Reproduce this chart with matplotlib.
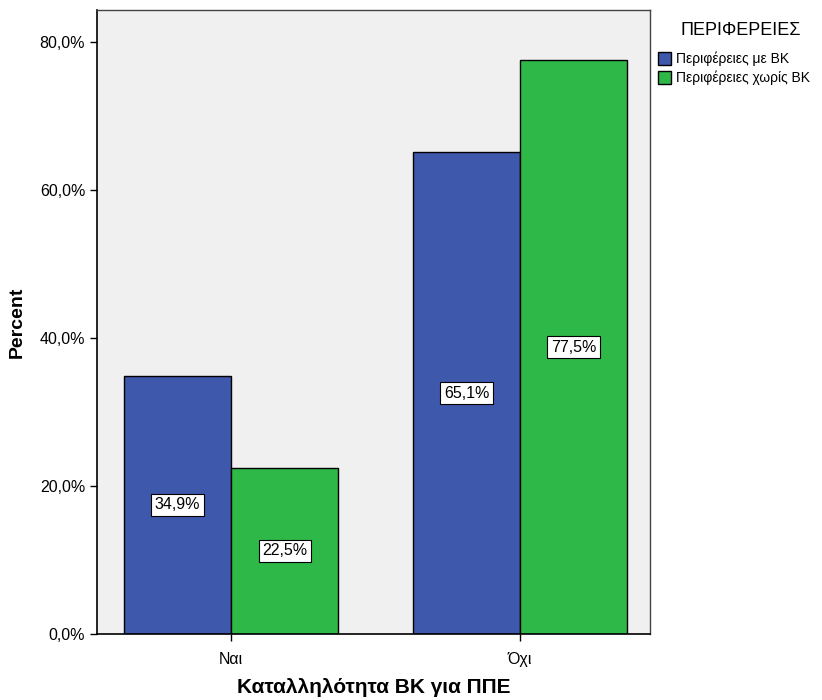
import numpy as np
import matplotlib.pyplot as plt
from matplotlib.ticker import FuncFormatter

plt.rcParams['font.family'] = ['Liberation Sans', 'DejaVu Sans']

categories = ['Ναι', 'Όχι']
series_names = ['Περιφέρειες με ΒΚ', 'Περιφέρειες χωρίς ΒΚ']
with_bk = [34.9, 65.1]
without_bk = [22.5, 77.5]
colors = ['#3e58ac', '#2eb848']

fig = plt.figure(figsize=(8.22, 7.0), dpi=100)
ax = fig.add_axes([0.118, 0.094, 0.673, 0.892])
ax.set_facecolor('#f0f0f0')

x = np.arange(len(categories))
w = 0.37
for vals, off, col, name in zip([with_bk, without_bk], [-w / 2, w / 2], colors, series_names):
    bars = ax.bar(x + off, vals, w, color=col, edgecolor='black', linewidth=1, label=name)
    for b, v in zip(bars, vals):
        ax.text(b.get_x() + b.get_width() / 2, v / 2, f'{v:.1f}%'.replace('.', ','),
                ha='center', va='center', fontsize=11.5,
                bbox=dict(boxstyle='square,pad=0.22', fc='white', ec='black', lw=0.8))

ax.set_xlim(-0.464, 1.45)
ax.set_ylim(0, 84.3)
ax.set_yticks([0, 20, 40, 60, 80])
ax.yaxis.set_major_formatter(FuncFormatter(lambda v, p: f'{v:.1f}%'.replace('.', ',')))
ax.set_xticks(x)
ax.set_xticklabels(categories)
ax.tick_params(labelsize=11.5, length=5, width=1, color='black')
ax.tick_params(axis='x', pad=8)
for s in ['top', 'right']:
    ax.spines[s].set_color('#444444')
    ax.spines[s].set_linewidth(1)
for s in ['left', 'bottom']:
    ax.spines[s].set_linewidth(1.2)

ax.set_ylabel('Percent', fontsize=14, fontweight='bold', labelpad=10)
ax.set_xlabel('Καταλληλότητα ΒΚ για ΠΠΕ', fontsize=15, fontweight='bold', labelpad=8)

fig.text(0.901, 0.957, 'ΠΕΡΙΦΕΡΕΙΕΣ', ha='center', va='center', fontsize=13)
leg = fig.legend(loc='upper left', bbox_to_anchor=(0.8, 0.926),
                 fontsize=10, frameon=False, borderaxespad=0, borderpad=0,
                 handlelength=1.0, handleheight=1.1, handletextpad=0.3, labelspacing=0.3)

plt.savefig('out.png', dpi=100)
